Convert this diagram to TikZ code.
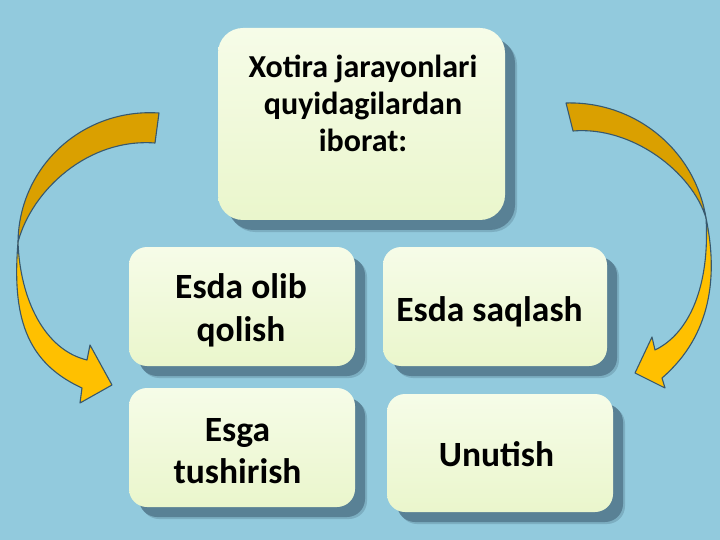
\documentclass[tikz,border=0pt]{standalone}
\usepackage{fontspec}
\setmainfont{Carlito}
\usetikzlibrary{shadows}
\definecolor{bgc}{RGB}{146,202,221}
\definecolor{boxtop}{RGB}{246,252,232}
\definecolor{boxbot}{RGB}{234,246,204}
\definecolor{shadowc}{RGB}{84,122,142}
\definecolor{golddark}{RGB}{218,160,0}
\definecolor{goldlight}{RGB}{255,192,0}
\definecolor{edgec}{RGB}{55,88,110}
\begin{document}
\begin{tikzpicture}[x=1pt,y=-1pt,
  boxshape/.style={rectangle, rounded corners=18pt, top color=boxtop, bottom color=boxbot, draw=none,
    drop shadow={shadow xshift=12pt, shadow yshift=-12pt, fill=shadowc, opacity=0.35},
    drop shadow={shadow xshift=10pt, shadow yshift=-10pt, fill=shadowc, opacity=0.85}},
  boxtext/.style={align=center, anchor=base, inner sep=0pt},
  arrowdark/.style={fill=golddark, draw=edgec, line width=1.1pt, line join=round},
  arrowlight/.style={fill=goldlight, draw=edgec, line width=1.1pt, line join=round}]
\useasboundingbox (0,0) rectangle (720,540);
\fill[bgc] (0,0) rectangle (720,540);

% left curved arrow
\coordinate (lt1) at (159,113);
\coordinate (lt2) at (155,143);
\coordinate (lx) at (18,242);
\coordinate (lo) at (82,388);
\coordinate (lb1) at (80,403);
\coordinate (ltip) at (112,385);
\coordinate (lb2) at (90,345);
\coordinate (li) at (87,360);
\draw[arrowdark] (lt1) .. controls (83,108) and (19,166) .. (lx)
  .. controls (32,190) and (88,138) .. (lt2) -- cycle;
\draw[arrowlight] (lx) .. controls (12,315) and (25,362) .. (lo)
  -- (lb1) -- (ltip) -- (lb2) -- (li)
  .. controls (45,350) and (20,300) .. (lx) -- cycle;

% right curved arrow
\coordinate (rt1) at (566,103);
\coordinate (rt2) at (573,131);
\coordinate (rx) at (706,218);
\coordinate (ro) at (662,378);
\coordinate (rb1) at (665,388);
\coordinate (rtip) at (635,373);
\coordinate (rb2) at (652,337);
\coordinate (ri) at (655,350);
\draw[arrowdark] (rt1) .. controls (635,101) and (695,150) .. (rx)
  .. controls (692,172) and (632,126) .. (rt2) -- cycle;
\draw[arrowlight] (rx) .. controls (718,275) and (712,335) .. (ro)
  -- (rb1) -- (rtip) -- (rb2) -- (ri)
  .. controls (690,333) and (710,285) .. (rx) -- cycle;

% boxes
\node[boxshape, rounded corners=25pt, minimum width=287pt, minimum height=192pt] (top) at (361.5,124) {};
\node[boxshape, minimum width=226pt, minimum height=119pt] (b2) at (242,306.5) {};
\node[boxshape, minimum width=224pt, minimum height=119pt] (b3) at (495,306.5) {};
\node[boxshape, minimum width=226pt, minimum height=119pt] (b4) at (242,447.5) {};
\node[boxshape, minimum width=226pt, minimum height=118pt] (b5) at (500,453) {};

% texts (base anchor = baseline of last line)
\node[boxtext, font=\bfseries\fontsize{32}{37}\selectfont] (t1) at (363,152) {Xotira jarayonlari\\quyidagilardan\\iborat:};
\node[boxtext, font=\bfseries\fontsize{35.5}{43}\selectfont] (t2) at (241,341.3) {Esda olib\\qolish};
\node[boxtext, font=\bfseries\fontsize{35.5}{42}\selectfont] (t3) at (489.5,321.7) {Esda saqlash};
\node[boxtext, font=\bfseries\fontsize{35.5}{41.6}\selectfont] (t4) at (237.5,483.3) {Esga\\tushirish};
\node[boxtext, font=\bfseries\fontsize{35.5}{42}\selectfont] (t5) at (496.5,466.7) {Unutish};
\end{tikzpicture}
\end{document}
